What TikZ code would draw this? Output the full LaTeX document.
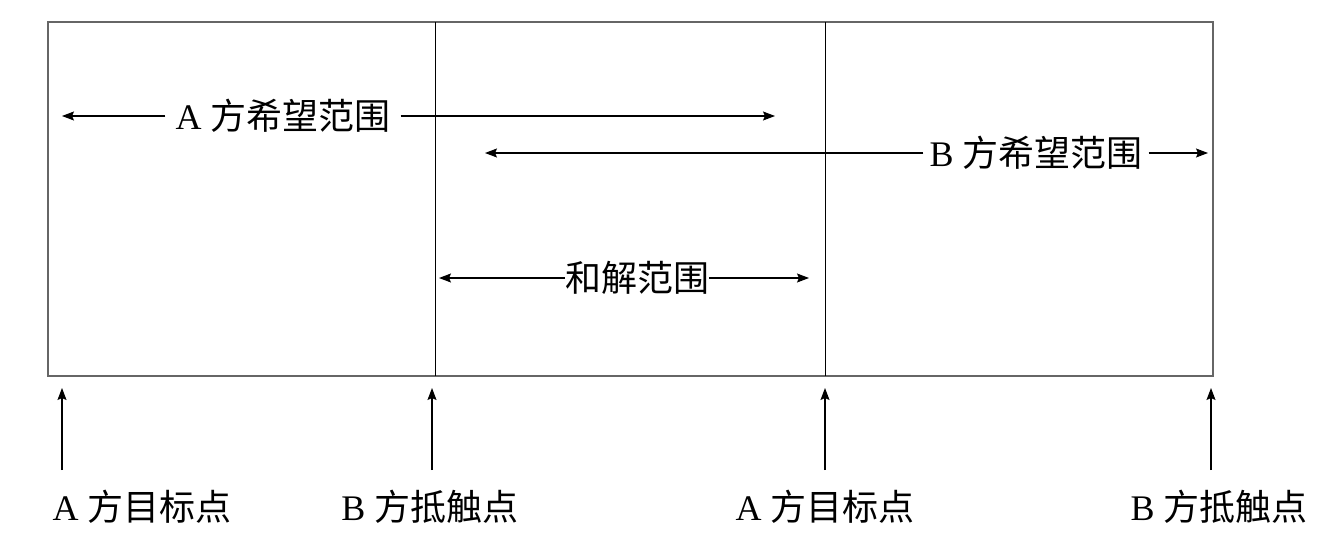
\documentclass[tikz,border=0pt]{standalone}
\usepackage{fontspec}
\setmainfont{Liberation Serif}
\newfontfamily\cjk{Noto Sans CJK SC}
\usetikzlibrary{arrows.meta}
\begin{document}
\begin{tikzpicture}[x=1pt,y=-1pt,
  lbl/.style={font=\fontsize{36}{42}\selectfont, inner sep=0pt, anchor=center},
  arr/.style={-{Stealth[length=12pt,width=9pt,inset=2pt]}, line width=1.1pt},
  frame/.style={draw=black!60, line width=1.6pt},
  divider/.style={draw=black, line width=1pt}]
\useasboundingbox (0,0) rectangle (1342,546);
\draw[frame] (48,22) rectangle (1213,376);
\draw[divider] (435,22) -- (435,376);
\draw[divider] (825,22) -- (825,376);
% A range
\node[lbl, inner xsep=10pt] (ta) at (283,116) {A {\cjk 方希望范围}};
\coordinate (taL) at (62,116);
\coordinate (taR) at (775,116);
\draw[arr] (ta.west) -- (taL);
\draw[arr] (ta.east) -- (taR);
% B range
\node[lbl, inner xsep=6pt] (tb) at (1036,153) {B {\cjk 方希望范围}};
\coordinate (tbL) at (485,153);
\coordinate (tbR) at (1208,153);
\draw[arr] (tb.west) -- (tbL);
\draw[arr] (tb.east) -- (tbR);
% settlement range
\node[lbl, inner xsep=0pt] (ts) at (637,278) {\cjk 和解范围};
\coordinate (tsL) at (439,278);
\coordinate (tsR) at (809,278);
\draw[arr] (ts.west) -- (tsL);
\draw[arr] (ts.east) -- (tsR);
% bottom points
\coordinate (p1) at (62,388);  \coordinate (q1) at (62,470);
\coordinate (p2) at (432,388); \coordinate (q2) at (432,470);
\coordinate (p3) at (825,388); \coordinate (q3) at (825,470);
\coordinate (p4) at (1211,388);\coordinate (q4) at (1211,470);
\draw[arr] (q1) -- (p1);
\draw[arr] (q2) -- (p2);
\draw[arr] (q3) -- (p3);
\draw[arr] (q4) -- (p4);
\node[lbl] (l1) at (142,507) {A {\cjk 方目标点}};
\node[lbl] (l2) at (430,507) {B {\cjk 方抵触点}};
\node[lbl] (l3) at (825,507) {A {\cjk 方目标点}};
\node[lbl] (l4) at (1219,507) {B {\cjk 方抵触点}};
\end{tikzpicture}
\end{document}
